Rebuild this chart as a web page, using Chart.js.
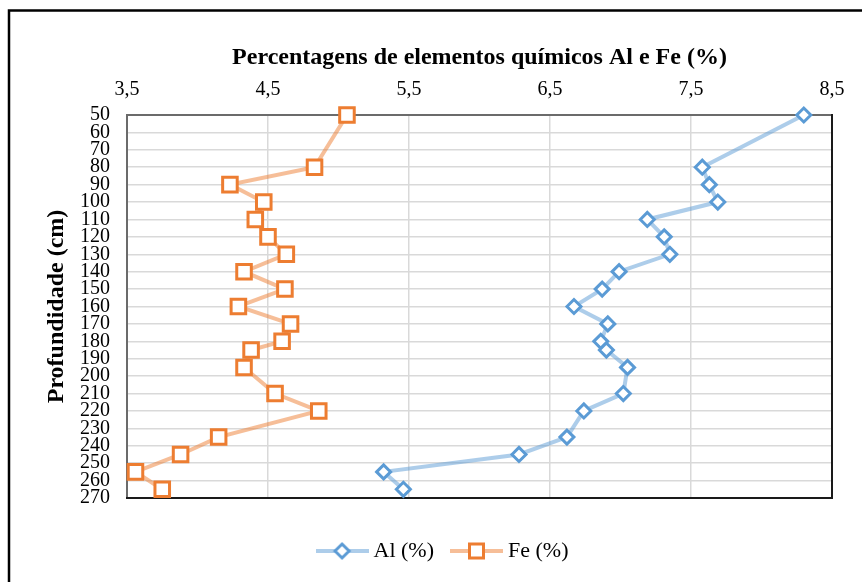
<!DOCTYPE html>
<html><head><meta charset="utf-8">
<script src="https://cdn.jsdelivr.net/npm/chart.js@4/dist/chart.umd.min.js"></script>
<style>html,body{margin:0;padding:0;background:#fff;}</style>
</head><body>
<canvas id="c" width="862" height="582"></canvas>
<script>
const depths = [50,80,90,100,110,120,130,140,150,160,170,180,185,195,210,220,235,245,255,265];
const alValues = [8.30,7.58,7.63,7.69,7.19,7.31,7.35,6.99,6.87,6.67,6.91,6.86,6.90,7.05,7.02,6.74,6.62,6.28,5.32,5.46];
const feValues = [5.06,4.83,4.23,4.47,4.41,4.50,4.63,4.33,4.62,4.29,4.66,4.60,4.38,4.33,4.55,4.86,4.15,3.88,3.56,3.75];
const seriesNames = ['Al (%)', 'Fe (%)'];
const xTitle = 'Percentagens de elementos químicos Al e Fe (%)';
const yTitle = 'Profundidade (cm)';
const xMin = 3.5, xMax = 8.5, xStep = 1;
const yMin = 50, yMax = 270, yStep = 10;

const FONT = "'Liberation Serif', 'Times New Roman', serif";
const alColor = '#5B9BD5', alLine = 'rgba(91,155,213,0.5)';
const feColor = '#ED7D31', feLine = 'rgba(237,125,49,0.5)';

function legendIcon(kind) {
  const c = document.createElement('canvas');
  c.width = 53; c.height = 20;
  const g = c.getContext('2d');
  g.strokeStyle = kind === 'al' ? alLine : feLine;
  g.lineWidth = 4;
  g.beginPath(); g.moveTo(0, 10); g.lineTo(53, 10); g.stroke();
  g.fillStyle = '#fff';
  g.strokeStyle = kind === 'al' ? alColor : feColor;
  g.lineWidth = 3;
  g.beginPath();
  if (kind === 'al') {
    g.moveTo(26.5, 3); g.lineTo(33.5, 10); g.lineTo(26.5, 17); g.lineTo(19.5, 10); g.closePath();
  } else {
    g.rect(19.5, 3, 14, 14);
  }
  g.fill(); g.stroke();
  return c;
}
const icons = [legendIcon('al'), legendIcon('fe')];

const framePlugin = {
  id: 'frame',
  beforeDatasetsDraw(chart) {
    const {ctx, chartArea: a} = chart;
    ctx.save();
    ctx.strokeStyle = '#1a1a1a';
    ctx.lineWidth = 2;
    ctx.beginPath();
    ctx.moveTo(a.right, a.top - 1);
    ctx.lineTo(a.right, a.bottom);
    ctx.lineTo(a.left - 1, a.bottom);
    ctx.stroke();
    ctx.restore();
  },
  afterDraw(chart) {
    const ctx = chart.ctx;
    ctx.save();
    ctx.strokeStyle = '#000';
    ctx.lineWidth = 2.5;
    ctx.beginPath();
    ctx.moveTo(9, 582); ctx.lineTo(9, 10.5); ctx.lineTo(862, 10.5);
    ctx.stroke();
    ctx.restore();
  }
};

new Chart(document.getElementById('c'), {
  type: 'scatter',
  data: {
    datasets: [
      {
        label: seriesNames[0],
        data: depths.map((d, i) => ({x: alValues[i], y: d})),
        showLine: true,
        borderColor: alLine,
        borderWidth: 4,
        pointStyle: 'rectRot',
        pointRadius: 7,
        pointHoverRadius: 7,
        pointBorderColor: alColor,
        pointBackgroundColor: '#fff',
        pointBorderWidth: 3,
        clip: false
      },
      {
        label: seriesNames[1],
        data: depths.map((d, i) => ({x: feValues[i], y: d})),
        showLine: true,
        borderColor: feLine,
        borderWidth: 4,
        pointStyle: 'rect',
        pointRadius: 10.3,
        pointHoverRadius: 10.3,
        pointBorderColor: feColor,
        pointBackgroundColor: '#fff',
        pointBorderWidth: 3,
        clip: false
      }
    ]
  },
  options: {
    responsive: false,
    animation: false,
    devicePixelRatio: 1,
    layout: {padding: {left: 58, right: 30, top: 10, bottom: 10}},
    scales: {
      x: {
        type: 'linear',
        position: 'top',
        min: xMin, max: xMax,
        afterFit: s => { s.height = 105; },
        ticks: {
          stepSize: xStep,
          padding: 13,
          color: '#000',
          font: {family: FONT, size: 20},
          callback: v => v.toFixed(1).replace('.', ',')
        },
        grid: {color: '#d9d9d9', lineWidth: 1.5, drawTicks: false},
        border: {color: '#6b6b6b', width: 2},
        title: {
          display: true, text: xTitle, color: '#000',
          font: {family: FONT, size: 24, weight: 'bold'},
          padding: {top: 33.6, bottom: 0}
        }
      },
      x2: {
        type: 'linear',
        axis: 'x',
        position: 'bottom',
        display: true,
        afterFit: s => { s.height = 20; },
        ticks: {display: false},
        grid: {display: false},
        border: {display: false}
      },
      y: {
        type: 'linear',
        reverse: true,
        min: yMin, max: yMax,
        afterFit: s => { s.width = 69; },
        ticks: {
          stepSize: yStep,
          autoSkip: false,
          padding: 17,
          color: '#000',
          font: {family: FONT, size: 20, lineHeight: 1}
        },
        grid: {color: '#d9d9d9', lineWidth: 1.5, drawTicks: false},
        border: {color: '#6b6b6b', width: 2},
        title: {
          display: true, text: yTitle, color: '#000',
          font: {family: FONT, size: 24, weight: 'bold'},
          padding: {top: -15.4, bottom: 0}
        }
      }
    },
    plugins: {
      legend: {
        position: 'bottom',
        labels: {
          color: '#000',
          font: {family: FONT, size: 22},
          usePointStyle: true,
          pointStyleWidth: 41,
          padding: 22,
          generateLabels(chart) {
            const items = Chart.defaults.plugins.legend.labels.generateLabels(chart);
            items.forEach((it, i) => { it.pointStyle = icons[i]; });
            return items;
          }
        }
      },
      tooltip: {enabled: false}
    }
  },
  plugins: [framePlugin]
});
</script>
</body></html>
